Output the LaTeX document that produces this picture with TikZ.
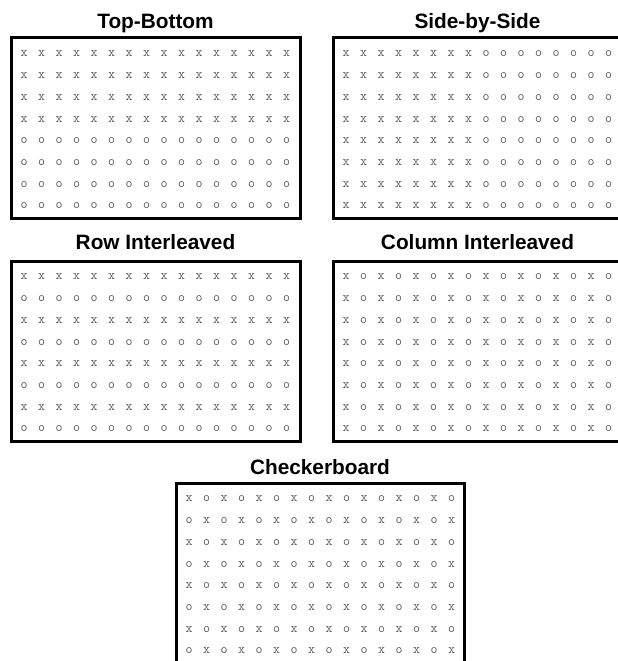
\documentclass[tikz,border=0pt]{standalone}
\usepackage{fontspec}
\setmainfont{Liberation Sans}
\begin{document}
\begin{tikzpicture}[x=1bp,y=-1bp,
  frame/.style={draw=black,line width=3bp},
  title/.style={anchor=base,inner sep=0pt,font=\fontsize{20.8bp}{24bp}\selectfont\bfseries},
  glyph/.style={inner sep=0pt,text=black!65,font=\ttfamily\fontsize{13.5bp}{14bp}\selectfont}]
% 8 x 16 grid of x/o marks inside a frame whose top-left corner is (#2,#3);
% #4 is a pgfmath test that is 1 where an x is printed
\newcommand\markgrid[4]{%
  \foreach \r in {1,...,8}{%
    \foreach \c in {1,...,16}{%
      \pgfmathtruncatemacro\isx{#4}%
      \pgfmathsetmacro\px{#2+13+17.5*(\c-1)}%
      \pgfmathsetmacro\py{#3+16+21.7*(\r-1)}%
      \node[glyph] (#1-\r-\c) at (\px,\py) {\ifnum\isx=1 x\else o\fi};
    }}}
\useasboundingbox (0,0) rectangle (618,661);
\clip (0,0) rectangle (618,661);
\fill[white] (0,0) rectangle (618,661);

% titles
\node[title] (tTB) at (155.5,29) {Top-Bottom};
\node[title] (tSS) at (477.5,29) {Side-by-Side};
\node[title] (tRI) at (155.5,249) {Row Interleaved};
\node[title] (tCI) at (477.5,249) {Column Interleaved};
\node[title] (tCB) at (320,474) {Checkerboard};

% frames
\draw[frame] (11,38) rectangle (300,218);
\draw[frame] (333,38) rectangle (622,218);
\draw[frame] (11,261) rectangle (300,441);
\draw[frame] (333,261) rectangle (622,441);
\draw[frame] (176,483) rectangle (464,663);

% mark patterns
\markgrid{tb}{11}{38}{\r<=4}
\markgrid{ss}{333}{38}{\c<=8}
\markgrid{ri}{11}{261}{mod(\r,2)==1}
\markgrid{ci}{333}{261}{mod(\c,2)==1}
\markgrid{cb}{176}{483}{mod(\r+\c,2)==0}
\end{tikzpicture}
\end{document}
